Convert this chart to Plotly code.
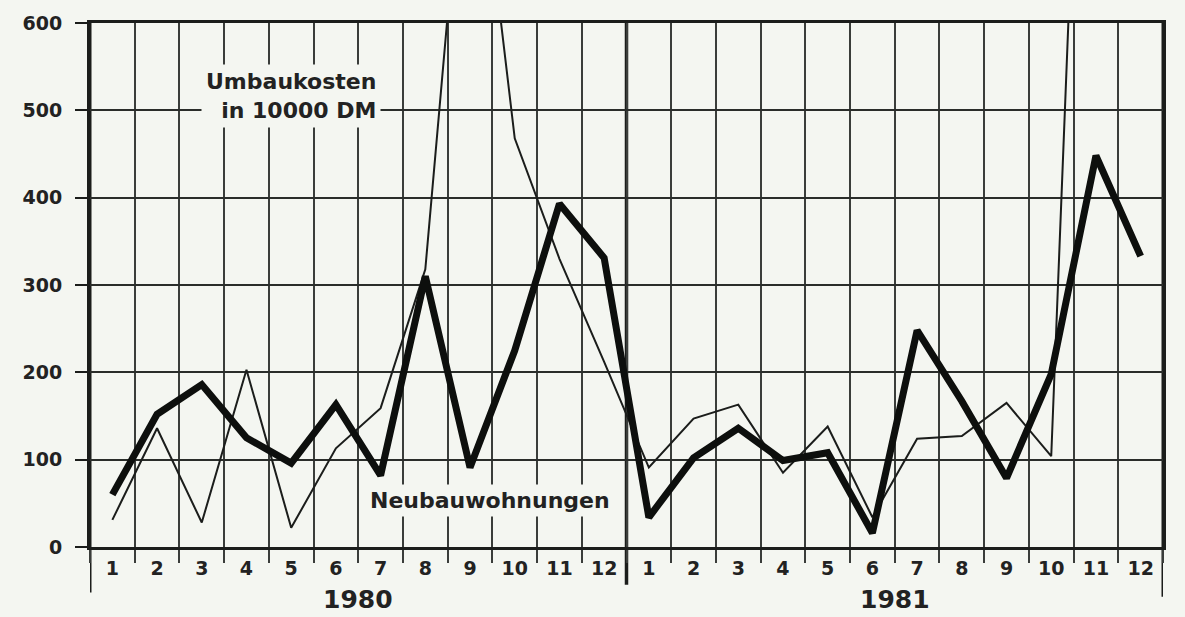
import plotly.graph_objects as go

# months of 1980 and 1981, one value per month
months = [1, 2, 3, 4, 5, 6, 7, 8, 9, 10, 11, 12,
          1, 2, 3, 4, 5, 6, 7, 8, 9, 10, 11, 12]
years = ["1980", "1981"]

# Neubauwohnungen (thick line)
neubau = [60, 152, 186, 125, 96, 163, 82, 310, 91, 225, 393, 331,
          34, 102, 136, 99, 108, 16, 248, 167, 79, 198, 448, 333]

# Umbaukosten in 10000 DM (thin line), off the scale in 9/1980 and 11/1981
umbau = [31, 136, 28, 203, 22, 113, 159, 318, 900, 468, 330, 212,
         91, 147, 163, 85, 138, 34, 124, 127, 165, 104, 1400, None]

y_ticks = [0, 100, 200, 300, 400, 500, 600]

BG = "#f4f6f1"
INK = "#1b1d1b"
FONT = "DejaVu Sans"

x_pos = [i + 0.5 for i in range(len(months))]

fig = go.Figure()

fig.add_trace(go.Scatter(
    x=x_pos, y=umbau, mode="lines",
    line=dict(color=INK, width=2),
    connectgaps=False, hoverinfo="skip",
))
fig.add_trace(go.Scatter(
    x=x_pos, y=neubau, mode="lines",
    line=dict(color="#0d0f0d", width=7),
    hoverinfo="skip",
))

fig.update_layout(
    width=1185, height=617,
    margin=dict(l=90, r=22, t=18, b=70),
    paper_bgcolor=BG, plot_bgcolor=BG,
    showlegend=False,
    font=dict(family=FONT, color=INK),
)

fig.update_xaxes(
    range=[0, 24],
    tickmode="array", tickvals=x_pos, ticktext=[str(m) for m in months],
    ticks="", showgrid=False,
    tickfont=dict(family=FONT, size=19, color="#222", weight="bold"),
    ticklabelstandoff=2,
    showline=True, linecolor=INK, linewidth=3, mirror=True,
    zeroline=False,
    minor=dict(tickmode="array", tickvals=list(range(25)),
               showgrid=True, gridcolor="#3a3d3a", gridwidth=1.5,
               ticks="outside", ticklen=13, tickwidth=1.5, tickcolor="#3a3d3a"),
)

fig.update_yaxes(
    range=[0, 600],
    tickmode="array", tickvals=y_ticks,
    showgrid=True, gridcolor="#2a2d2a", gridwidth=1.5,
    ticks="outside", ticklen=12, tickwidth=2, tickcolor=INK,
    tickfont=dict(family=FONT, size=19, color="#222", weight="bold"),
    ticklabelstandoff=9,
    showline=True, linecolor=INK, linewidth=3, mirror=True,
    zeroline=False,
)

# axis lines running down below the month labels, and the year divider
for xv, yb, w in [(0, -0.087, 3), (12, -0.072, 3.5), (24, -0.095, 3)]:
    fig.add_shape(type="line", xref="x", yref="paper",
                  x0=xv, x1=xv, y0=yb, y1=1,
                  line=dict(color=INK, width=w), layer="below")

# year labels
for i, yr in enumerate(years):
    fig.add_annotation(x=6 + 12 * i, y=-0.1, xref="x", yref="paper",
                       text=yr, showarrow=False, yanchor="middle",
                       font=dict(family=FONT, size=25, color="#222", weight="bold"))

fig.add_annotation(
    x=6.5, y=516, xref="x", yref="y",
    text="Umbaukosten<br>in 10000 DM", showarrow=False,
    xanchor="right", yanchor="middle", align="right",
    bgcolor=BG, borderpad=4,
    font=dict(family=FONT, size=22, color="#222", weight="bold"),
)
fig.add_annotation(
    x=8.95, y=53, xref="x", yref="y",
    text="Neubauwohnungen", showarrow=False,
    xanchor="center", yanchor="middle",
    bgcolor=BG, borderpad=3,
    font=dict(family=FONT, size=22, color="#222", weight="bold"),
)

fig.write_html("out.html", config={"displayModeBar": False},
               post_script="document.body.style.margin='0';")
